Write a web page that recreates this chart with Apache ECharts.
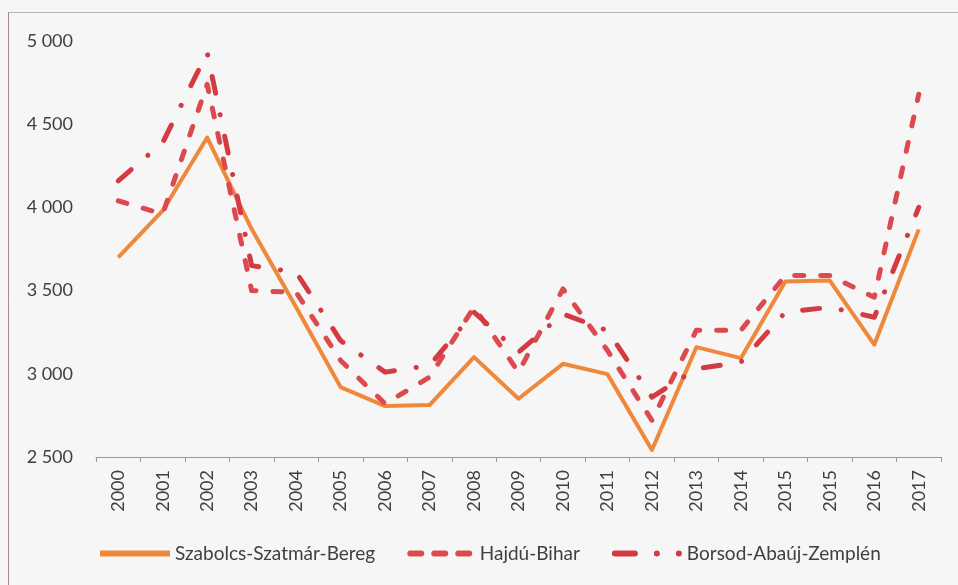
<!DOCTYPE html>
<html>
<head>
<meta charset="utf-8">
<script src="https://cdn.jsdelivr.net/npm/echarts@6/dist/echarts.min.js"></script>
<style>
html,body{margin:0;padding:0;background:#f5f6f5;}
#c{width:958px;height:585px;}
</style>
</head>
<body>
<div id="c"></div>
<script>
const categories = ['2000','2001','2002','2003','2004','2005','2006','2007','2008','2009','2010','2011','2012','2013','2014','2015','2015','2016','2017'];
const szabolcs = [3700,3980,4420,3870,3400,2920,2806,2812,3100,2850,3060,2998,2542,3160,3094,3555,3560,3175,3868];
const hajdu    = [4040,3960,4740,3500,3490,3080,2820,2980,3400,3010,3510,3140,2720,3262,3262,3590,3590,3460,4680];
const borsod   = [4160,4390,4930,3650,3610,3200,3010,3050,3370,3130,3360,3260,2860,3030,3070,3370,3400,3340,4000];
const yTicks = { min: 2500, max: 5000, step: 500 };
const names = ['Szabolcs-Szatmár-Bereg','Hajdú-Bihar','Borsod-Abaúj-Zemplén'];

const chart = echarts.init(document.getElementById('c'), null, {renderer:'canvas'});
const font = 'Lato, "Liberation Sans", sans-serif';
const cOrange = '#EF883A', cHajdu = '#DC4A50', cBorsod = '#D43A42';

chart.setOption({
  backgroundColor: '#f5f6f5',
  animation: false,
  grid: { left: 96, right: 17, top: 41, bottom: 128, containLabel: false },
  graphic: [
    { type: 'line', shape: { x1: 8, y1: 12.5, x2: 958, y2: 12.5 }, style: { stroke: '#b9b2bd', lineWidth: 1 } },
    { type: 'line', shape: { x1: 8.5, y1: 12, x2: 8.5, y2: 585 }, style: { stroke: '#a08c90', lineWidth: 1 } }
  ],
  legend: {
    left: 95, top: 539,
    itemWidth: 70, itemHeight: 6, itemGap: 32,
    textStyle: { fontFamily: font, fontSize: 19, color: '#404040' },
    data: [
      { name: names[0], icon: 'path://M0,0h70v6h-70Z' },
      { name: names[1], icon: 'path://M3,0h11a3,3 0 0 1 0,6h-11a3,3 0 0 1 0,-6Z M27,0h11a3,3 0 0 1 0,6h-11a3,3 0 0 1 0,-6Z M51,0h11a3,3 0 0 1 0,6h-11a3,3 0 0 1 0,-6Z' },
      { name: names[2], icon: 'path://M3,0h20a3,3 0 0 1 0,6h-20a3,3 0 0 1 0,-6Z M42,3a3,3 0 1 0 6,0a3,3 0 1 0 -6,0Z M64,3a3,3 0 1 0 6,0a3,3 0 1 0 -6,0Z' }
    ]
  },
  xAxis: {
    type: 'category',
    data: categories,
    boundaryGap: true,
    axisLine: { show: true, lineStyle: { color: '#b68c8c', width: 1 } },
    axisTick: { show: true, length: 5, lineStyle: { color: '#b68c8c' } },
    axisLabel: { rotate: 90, interval: 0, margin: 13, fontFamily: font, fontSize: 18, color: '#404040' },
    splitLine: { show: false }
  },
  yAxis: {
    type: 'value',
    min: yTicks.min, max: yTicks.max, interval: yTicks.step,
    axisLine: { show: false }, axisTick: { show: false },
    splitLine: { show: false },
    axisLabel: {
      margin: 23, fontFamily: font, fontSize: 18, color: '#404040',
      formatter: v => String(v).replace(/\B(?=(\d{3})+(?!\d))/g, ' ')
    }
  },
  series: [
    { name: names[0], type: 'line', data: szabolcs, symbol: 'none', color: cOrange,
      lineStyle: { color: cOrange, width: 4, join: 'round' } },
    { name: names[1], type: 'line', data: hajdu, symbol: 'none', color: cHajdu,
      lineStyle: { color: cHajdu, width: 5, type: [9, 17], cap: 'round', join: 'round' } },
    { name: names[2], type: 'line', data: borsod, symbol: 'none', color: cBorsod,
      lineStyle: { color: cBorsod, width: 5, type: [17, 22, 0.1, 22], cap: 'round', join: 'round' } }
  ]
});
</script>
</body>
</html>
